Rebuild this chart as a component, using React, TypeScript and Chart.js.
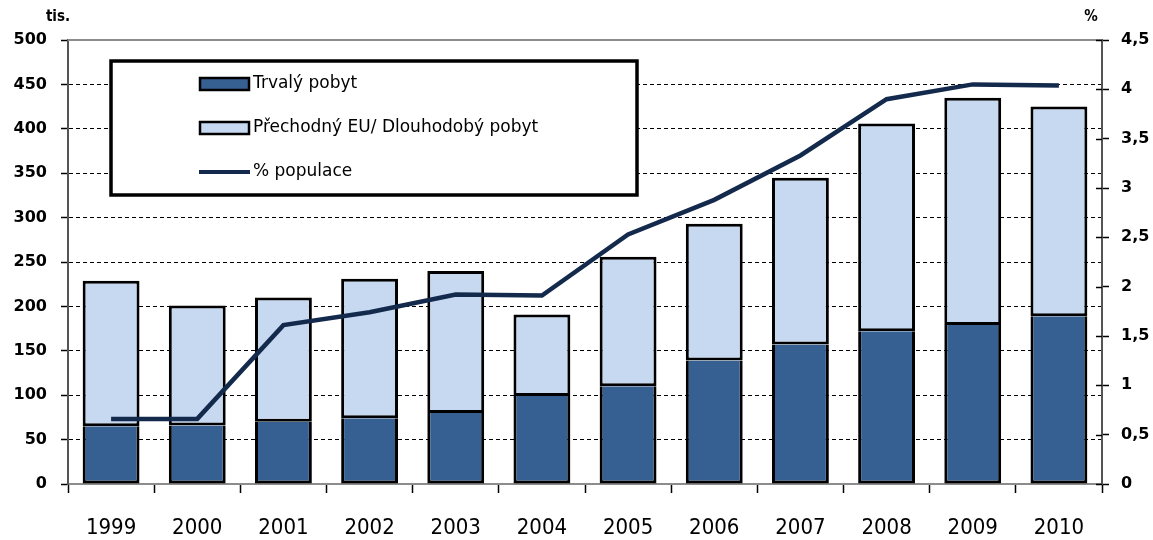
import React, { useEffect, useRef } from "react";
import { Chart, registerables } from "chart.js";

Chart.register(...registerables);

const years = ["1999", "2000", "2001", "2002", "2003", "2004", "2005", "2006", "2007", "2008", "2009", "2010"];
const trvaly = [65, 66, 70, 74, 80, 99, 110, 139, 157, 172, 179, 189];
const celkem = [229, 201, 210, 231, 240, 191, 256, 293, 345, 406, 435, 425];
const prechodny = celkem.map((t, i) => t - trvaly[i]);
const populace = [0.66, 0.66, 1.61, 1.74, 1.92, 1.91, 2.53, 2.88, 3.33, 3.9, 4.05, 4.04];

const legendLabels = ["Trvalý pobyt", "Přechodný EU/ Dlouhodobý pobyt", "% populace"];
const leftTitle = "tis.";
const rightTitle = "%";

const DARK = "#366092";
const LIGHT = "#c6d9f1";
const LINE = "#142a4c";

const overlay = {
  id: "overlay",
  beforeDatasetsDraw(chart: any) {
    const { ctx, chartArea } = chart;
    ctx.save();
    ctx.strokeStyle = "#8c8c8c";
    ctx.lineWidth = 2;
    ctx.beginPath();
    ctx.moveTo(chartArea.left, chartArea.top);
    ctx.lineTo(chartArea.right, chartArea.top);
    ctx.stroke();
    ctx.restore();
  },
  afterDatasetsDraw(chart: any) {
    const { ctx, chartArea, scales } = chart;
    ctx.save();
    // right axis ticks crossing the axis
    const y1 = scales.y1;
    ctx.strokeStyle = "#000";
    ctx.lineWidth = 1.5;
    y1.ticks.forEach((t: any) => {
      const y = Math.round(y1.getPixelForValue(t.value)) + 0.5;
      ctx.beginPath();
      ctx.moveTo(chartArea.right - 6, y);
      ctx.lineTo(chartArea.right, y);
      ctx.stroke();
    });
    // legend box
    ctx.fillStyle = "#ffffff";
    ctx.fillRect(111, 61, 526, 134);
    ctx.strokeStyle = "#000";
    ctx.lineWidth = 3.5;
    ctx.strokeRect(111, 61, 526, 134);
    const rows = [84, 128, 172];
    ctx.font = "17px 'DejaVu Sans', sans-serif";
    ctx.textBaseline = "middle";
    ctx.textAlign = "left";
    rows.forEach((y, i) => {
      if (i < 2) {
        ctx.fillStyle = i === 0 ? DARK : LIGHT;
        ctx.fillRect(200, y - 6, 49, 12);
        ctx.strokeStyle = "#000";
        ctx.lineWidth = 2.5;
        ctx.strokeRect(200, y - 6, 49, 12);
      } else {
        ctx.strokeStyle = LINE;
        ctx.lineWidth = 4;
        ctx.beginPath();
        ctx.moveTo(199, y);
        ctx.lineTo(250, y);
        ctx.stroke();
      }
      ctx.fillStyle = "#000";
      ctx.fillText(legendLabels[i], 253, y);
    });
    // axis titles
    ctx.font = "bold 15px 'DejaVu Sans Condensed', 'DejaVu Sans', sans-serif";
    ctx.textAlign = "center";
    ctx.fillText(leftTitle, 58, 17);
    ctx.fillText(rightTitle, 1091, 17);
    ctx.restore();
  },
};

export default function App() {
  const ref = useRef<HTMLCanvasElement>(null);
  useEffect(() => {
    const chart = new Chart(ref.current!, {
      type: "bar",
      data: {
        labels: years,
        datasets: [
          {
            type: "line",
            label: legendLabels[2],
            data: populace,
            yAxisID: "y1",
            borderColor: LINE,
            borderWidth: 4.5,
            pointRadius: 0,
            tension: 0,
            order: 0,
          } as any,
          {
            label: legendLabels[0],
            data: trvaly,
            backgroundColor: DARK,
            borderColor: "#000",
            borderWidth: 3,
            borderSkipped: "top",
            yAxisID: "y",
            order: 1,
            stack: "s",
          },
          {
            label: legendLabels[1],
            data: prechodny,
            backgroundColor: LIGHT,
            borderColor: "#000",
            borderWidth: 3,
            borderSkipped: false,
            yAxisID: "y",
            order: 1,
            stack: "s",
          },
        ],
      },
      options: {
        animation: false,
        responsive: false,
        maintainAspectRatio: false,
        layout: { padding: { top: 40, left: 0, right: 0, bottom: 0 } },
        plugins: { legend: { display: false }, tooltip: { enabled: false } },
        datasets: { bar: { barPercentage: 0.66, categoryPercentage: 1 } },
        scales: {
          x: {
            stacked: true,
            offset: true,
            afterFit: (s: any) => { s.height = 56; },
            grid: {
              offset: true,
              drawOnChartArea: false,
              drawTicks: true,
              tickLength: 9,
              tickColor: "#000",
              tickWidth: 1.5,
            },
            border: { color: "#8c8c8c", width: 2 },
            ticks: {
              color: "#000",
              padding: 22,
              font: { family: "'DejaVu Sans Condensed', 'DejaVu Sans', sans-serif", size: 22 },
            },
          },
          y: {
            stacked: true,
            position: "left",
            min: 0,
            max: 500,
            afterFit: (s: any) => { s.width = 68; },
            ticks: {
              stepSize: 50,
              color: "#000",
              padding: 14,
              font: { family: "'DejaVu Sans', sans-serif", size: 16, weight: "bold" },
            },
            grid: {
              color: "#000",
              lineWidth: 1,
              drawTicks: true,
              tickLength: 7,
              tickColor: "#000",
              tickWidth: 1.5,
              tickBorderDash: [],
            },
            border: { color: "#555", width: 2, dash: [4, 3] },
          },
          y1: {
            position: "right",
            min: 0,
            max: 4.5,
            afterFit: (s: any) => { s.width = 51; },
            ticks: {
              stepSize: 0.5,
              color: "#000",
              padding: 12,
              font: { family: "'DejaVu Sans', sans-serif", size: 16, weight: "bold" },
              callback: (v: any) => String(Number(v)).replace(".", ","),
            },
            grid: {
              drawOnChartArea: false,
              drawTicks: true,
              tickLength: 7,
              tickColor: "#000",
              tickWidth: 1.5,
            },
            border: { color: "#555", width: 2 },
          },
        },
      },
      plugins: [overlay],
    });
    return () => chart.destroy();
  }, []);
  return (
    <div style={{ position: "fixed", left: 0, top: 0, width: 1153, height: 540, background: "#fff" }}>
      <canvas ref={ref} width={1153} height={540} style={{ width: 1153, height: 540 }} />
    </div>
  );
}
